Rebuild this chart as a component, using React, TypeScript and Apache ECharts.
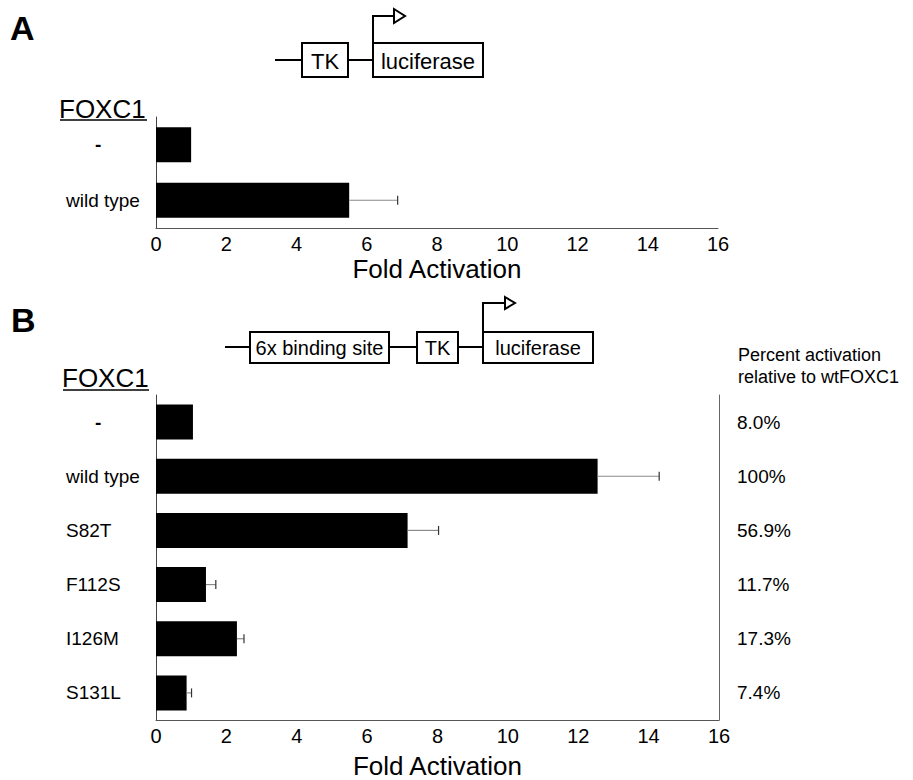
import React, { useEffect, useRef } from 'react';
import * as echarts from 'echarts';

const categoriesA = ['-', 'wild type'];
const valuesA = [1.0, 5.5];
const errorsA = [0, 1.38];

const categoriesB = ['-', 'wild type', 'S82T', 'F112S', 'I126M', 'S131L'];
const valuesB = [1.05, 12.55, 7.15, 1.42, 2.3, 0.87];
const errorsB = [0, 1.75, 0.88, 0.28, 0.2, 0.14];
const percentB = ['8.0%', '100%', '56.9%', '11.7%', '17.3%', '7.4%'];

const xTicksMin = 0;
const xTicksMax = 16;
const xTicksStep = 2;

const FONT = '"Liberation Sans", Arial, Helvetica, sans-serif';

function errRender(params: any, api: any) {
  const v = api.value(0);
  const c = api.value(1);
  const e = api.value(2);
  if (!e) return { type: 'group', children: [] };
  const p0 = api.coord([v, c]);
  const p1 = api.coord([v + e, c]);
  const h = 4.5;
  return {
    type: 'group',
    children: [
      { type: 'line', shape: { x1: p0[0], y1: p0[1], x2: p1[0], y2: p1[1] }, style: { stroke: '#8a8a8a', lineWidth: 1.2 } },
      { type: 'line', shape: { x1: p1[0], y1: p1[1] - h, x2: p1[0], y2: p1[1] + h }, style: { stroke: '#333', lineWidth: 1.2 } },
    ],
  };
}

function txt(text: string, x: number, y: number, size: number, opts: any = {}) {
  return {
    type: 'text',
    x,
    y,
    style: {
      text,
      fill: '#000',
      fontSize: size,
      fontFamily: FONT,
      fontWeight: opts.bold ? 'bold' : 'normal',
      align: opts.align || 'left',
      verticalAlign: 'middle',
    },
  };
}

function ln(x1: number, y1: number, x2: number, y2: number, w = 2) {
  return { type: 'line', shape: { x1, y1, x2, y2 }, style: { stroke: '#000', lineWidth: w } };
}

function box(x: number, y: number, w: number, h: number) {
  return { type: 'rect', shape: { x, y, width: w, height: h }, style: { fill: '#fff', stroke: '#000', lineWidth: 2 } };
}

export default function App() {
  const ref = useRef<HTMLDivElement>(null);
  useEffect(() => {
    const chart = echarts.init(ref.current as HTMLDivElement, null, { renderer: 'svg' });

    const xAxisCommon = (gridIndex: number, nameGap: number) => ({
      type: 'value',
      gridIndex,
      min: xTicksMin,
      max: xTicksMax,
      interval: xTicksStep,
      axisLine: { show: true, lineStyle: { color: '#555', width: 1 } },
      axisTick: { show: false },
      splitLine: { show: false },
      axisLabel: { color: '#000', fontSize: 20, fontFamily: FONT, margin: 6 },
      name: 'Fold Activation',
      nameLocation: 'middle',
      nameGap,
      nameTextStyle: { color: '#000', fontSize: 26, fontFamily: FONT },
    });

    const yLabel = {
      align: 'left',
      margin: 90,
      color: '#000',
      fontSize: 19,
      fontFamily: FONT,
      formatter: (v: string) => (v === '-' ? '{dash|-}' : v),
      rich: { dash: { padding: [0, 0, 0, 29], fontSize: 19, fontWeight: 'bold', fontFamily: FONT, color: '#000' } },
    };

    const option: any = {
      animation: false,
      backgroundColor: '#fff',
      grid: [
        { left: 156, top: 117, width: 562, height: 111 },
        { left: 156, top: 395, width: 563, height: 325 },
      ],
      xAxis: [xAxisCommon(0, 28), xAxisCommon(1, 33)],
      yAxis: [
        {
          type: 'category',
          gridIndex: 0,
          data: categoriesA,
          inverse: true,
          axisLine: { show: true, lineStyle: { color: '#444', width: 1 } },
          axisTick: { show: false },
          axisLabel: yLabel,
        },
        {
          type: 'category',
          gridIndex: 1,
          data: categoriesB,
          inverse: true,
          axisLine: { show: true, lineStyle: { color: '#444', width: 1 } },
          axisTick: { show: false },
          axisLabel: yLabel,
        },
        {
          type: 'category',
          gridIndex: 1,
          position: 'right',
          data: percentB,
          inverse: true,
          axisLine: { show: true, lineStyle: { color: '#666', width: 1 } },
          axisTick: { show: false },
          axisLabel: { margin: 18, color: '#000', fontSize: 19, fontFamily: FONT },
        },
      ],
      series: [
        { type: 'bar', xAxisIndex: 0, yAxisIndex: 0, data: valuesA, barWidth: 35, itemStyle: { color: '#000' } },
        { type: 'bar', xAxisIndex: 1, yAxisIndex: 1, data: valuesB, barWidth: 35, itemStyle: { color: '#000' } },
        {
          type: 'custom',
          xAxisIndex: 0,
          yAxisIndex: 0,
          renderItem: errRender,
          encode: { x: 0, y: 1 },
          data: valuesA.map((v, i) => [v, i, errorsA[i]]),
          z: 3,
        },
        {
          type: 'custom',
          xAxisIndex: 1,
          yAxisIndex: 1,
          renderItem: errRender,
          encode: { x: 0, y: 1 },
          data: valuesB.map((v, i) => [v, i, errorsB[i]]),
          z: 3,
        },
      ],
      graphic: [
        txt('A', 10, 28, 34, { bold: true }),
        txt('B', 11, 320, 34, { bold: true }),
        txt('FOXC1', 59, 109, 26),
        ln(60, 120, 147, 120, 1.5),
        txt('FOXC1', 62, 378, 26),
        ln(63, 390, 149, 390, 1.5),
        // Panel A construct
        ln(275, 60, 302, 60),
        box(302, 43, 46, 34),
        txt('TK', 325, 61, 22, { align: 'center' }),
        ln(348, 60, 373, 60),
        box(373, 43, 110, 34),
        txt('luciferase', 428, 61, 22, { align: 'center' }),
        { type: 'polyline', shape: { points: [[373, 43], [373, 16], [394, 16]] }, style: { stroke: '#000', lineWidth: 2, fill: null } },
        { type: 'polygon', shape: { points: [[394, 9], [405, 16], [394, 23]] }, style: { stroke: '#000', lineWidth: 2, fill: '#fff' } },
        // Panel B construct
        ln(225, 347, 250, 347),
        box(250, 332, 139, 31),
        txt('6x binding site', 319.5, 348, 20, { align: 'center' }),
        ln(389, 347, 417, 347),
        box(417, 332, 41, 31),
        txt('TK', 437.5, 348, 20, { align: 'center' }),
        ln(458, 347, 483, 347),
        box(483, 332, 110, 31),
        txt('luciferase', 538, 348, 20, { align: 'center' }),
        { type: 'polyline', shape: { points: [[483, 332], [483, 303], [505, 303]] }, style: { stroke: '#000', lineWidth: 2, fill: null } },
        { type: 'polygon', shape: { points: [[505, 297], [515, 303], [505, 309]] }, style: { stroke: '#000', lineWidth: 2, fill: '#fff' } },
        // Right header
        txt('Percent activation', 738, 355, 18),
        txt('relative to wtFOXC1', 738, 377, 18),
      ],
    };

    chart.setOption(option);
    return () => chart.dispose();
  }, []);

  return (
    <div
      ref={ref}
      style={{ position: 'absolute', left: 0, top: 0, width: 913, height: 780, background: '#fff' }}
    />
  );
}
